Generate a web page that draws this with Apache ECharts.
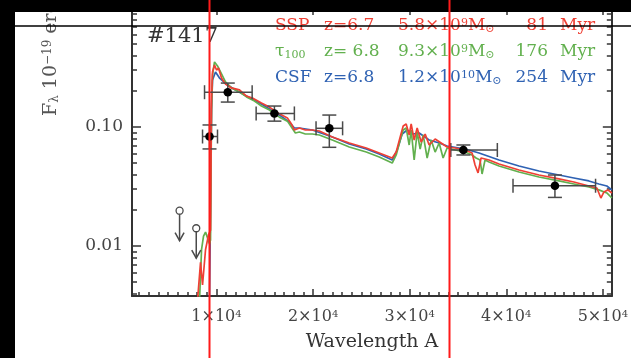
<!DOCTYPE html>
<html>
<head>
<meta charset="utf-8">
<script src="https://cdn.jsdelivr.net/npm/echarts@6/dist/echarts.min.js"></script>
<style>
html,body{margin:0;padding:0;background:#fff;}
#chart{width:631px;height:358px;}
</style>
</head>
<body>
<div id="chart"></div>
<script>
// Model spectra: [wavelength (A), F_lambda (1e-19 erg/s/cm2/A)]
const sspSpec = [[8036,0.0035],[8346,0.0073],[8553,0.0047],[8863,0.0093],[9173,0.0124],[9380,0.0136],[9483,0.169],[9587,0.290],[9793,0.332],[10000,0.301],[10207,0.313],[10517,0.258],[10930,0.230],[11550,0.213],[12377,0.205],[13101,0.182],[13721,0.175],[14651,0.159],[15478,0.147],[16512,0.129],[17339,0.119],[17752,0.106],[18062,0.0944],[18579,0.0981],[19199,0.0944],[19923,0.0944],[20646,0.0925],[21990,0.0824],[23747,0.0734],[25504,0.0666],[26848,0.0605],[28191,0.0549],[28605,0.0616],[29018,0.0824],[29328,0.102],[29638,0.106],[29948,0.0857],[30155,0.106],[30465,0.0778],[30775,0.0981],[31189,0.0748],[31602,0.0873],[32016,0.0706],[32636,0.0793],[33256,0.0734],[33876,0.0679],[34703,0.0666],[35737,0.0641],[36460,0.0605],[36770,0.0479],[37080,0.0411],[37390,0.0549],[38217,0.0528],[39251,0.0489],[41318,0.0435],[43385,0.0395],[45452,0.0366],[47003,0.0345],[48553,0.0319],[49380,0.0307],[49794,0.0253],[50104,0.0284],[50518,0.0296],[50931,0.0279]];
const tauSpec = [[8243,0.0035],[8450,0.0093],[8656,0.0121],[8863,0.0131],[9070,0.0117],[9276,0.0104],[9380,0.0112],[9483,0.139],[9587,0.274],[9793,0.352],[10103,0.326],[10413,0.290],[10930,0.239],[11550,0.213],[12377,0.197],[13101,0.179],[13928,0.165],[14651,0.150],[15478,0.139],[16512,0.121],[17339,0.112],[17752,0.100],[18165,0.089],[18579,0.0908],[19199,0.0873],[19923,0.0873],[20646,0.0857],[21990,0.0778],[23747,0.0679],[25504,0.0616],[26848,0.0560],[28191,0.0498],[28605,0.0582],[29018,0.0778],[29328,0.0944],[29638,0.0981],[29948,0.0706],[30155,0.0944],[30465,0.0528],[30775,0.0908],[31085,0.0653],[31396,0.0857],[31809,0.0549],[32223,0.0778],[32636,0.0616],[33049,0.0734],[33463,0.0549],[33876,0.0666],[34703,0.0641],[35737,0.0616],[36460,0.0582],[36874,0.0549],[37287,0.0528],[37494,0.0403],[37804,0.0528],[38217,0.0508],[39251,0.0470],[41318,0.0419],[43385,0.0380],[45452,0.0352],[47003,0.0332],[48553,0.0313],[49587,0.0296],[50414,0.0279],[50931,0.0253]];
const csfSpec = [[9276,0.0035],[9380,0.0243],[9483,0.139],[9587,0.248],[9897,0.290],[10310,0.258],[11137,0.225],[11964,0.205],[13101,0.182],[14651,0.156],[16512,0.126],[17545,0.110],[18062,0.0981],[18579,0.0981],[19923,0.0944],[21990,0.0824],[23747,0.0720],[25504,0.0653],[26848,0.0593],[28191,0.0528],[28708,0.0641],[29225,0.0873],[29741,0.0944],[30362,0.0873],[30982,0.0890],[32016,0.0778],[33049,0.0734],[33876,0.0692],[35737,0.0653],[37183,0.0605],[39251,0.0528],[41318,0.0470],[43385,0.0427],[45452,0.0395],[47003,0.0373],[48553,0.0352],[49587,0.0332],[50414,0.0319],[50931,0.0296]];

// Photometry with error bars
const photWave   = [9276, 11168, 15995, 21680, 35561, 45039];
const photWaveLo = [8553, 8760, 14103, 20305, 34258, 40698];
const photWaveHi = [10103, 13690, 18062, 23055, 39076, 49245];
const photFlux   = [0.0832, 0.196, 0.130, 0.0975, 0.0641, 0.0321];
const photFluxLo = [0.0654, 0.162, 0.112, 0.0675, 0.0582, 0.0256];
const photFluxHi = [0.104, 0.234, 0.150, 0.126, 0.0706, 0.0395];

// Upper limits
const limitWave = [6176, 7902];
const limitFlux = [0.0198, 0.0141];

// Axis ticks
const xMajorTicks = [10000, 20000, 30000, 40000, 50000];
const xMinorTicks = [2000,3000,4000,5000,6000,7000,8000,9000,11000,12000,13000,14000,15000,16000,17000,18000,19000,21000,22000,23000,24000,25000,26000,27000,28000,29000,31000,32000,33000,34000,35000,36000,37000,38000,39000,41000,42000,43000,44000,45000,46000,47000,48000,49000];
const yMajorTicks = [0.01, 0.1, 1];
const yLabelTicks = [0.01, 0.1];
const yMinorTicks = [0.004,0.005,0.006,0.007,0.008,0.009,0.02,0.03,0.04,0.05,0.06,0.07,0.08,0.09,0.2,0.3,0.4,0.5,0.6,0.7,0.8,0.9];

// Model annotation rows
const modelNames  = ['SSP', '{n|τ}{sub|100}', 'CSF'];
const modelZ      = ['z=6.7', 'z= 6.8', 'z=6.8'];
const modelMant   = ['5.8', '9.3', '1.2'];
const modelExp    = ['9', '9', '10'];
const modelAge    = ['81', '176', '254'];
const modelColors = ['#ef4034', '#62b04e', '#2f62b3'];

const X_MIN = 1250, X_MAX = 50930, Y_MIN = 0.0038, Y_MAX = 1;
const AXIS_COLOR = '#333';
const SERIF = 'DejaVu Serif';

const chart = echarts.init(document.getElementById('chart'), null, {renderer: 'canvas'});

function xAx(pos, ticks, len, withLine, withLabel) {
  return {
    type: 'value', position: pos, min: X_MIN, max: X_MAX,
    splitLine: {show: false},
    axisLine: {show: withLine, lineStyle: {color: AXIS_COLOR, width: 2}},
    axisTick: {show: true, inside: true, length: len, customValues: ticks, lineStyle: {color: AXIS_COLOR, width: 1.5}},
    axisLabel: withLabel ? {
      show: true, customValues: xMajorTicks, margin: 13,
      formatter: v => '{n|' + Math.round(v / 10000) + '×10}{s|4}',
      rich: {
        n: {fontFamily: SERIF, fontSize: 16, color: '#444'},
        s: {fontFamily: SERIF, fontSize: 10, color: '#444', verticalAlign: 'top', padding: [0, 0, 6, 0]}
      }
    } : {show: false}
  };
}
function yAx(pos, ticks, len, withLine, withLabel) {
  return {
    type: 'log', logBase: 10, position: pos, min: Y_MIN, max: Y_MAX,
    splitLine: {show: false},
    axisLine: {show: withLine, lineStyle: {color: AXIS_COLOR, width: 2}},
    axisTick: {show: true, inside: true, length: len, customValues: ticks, lineStyle: {color: AXIS_COLOR, width: 1.5}},
    axisLabel: withLabel ? {
      show: true, customValues: yLabelTicks, margin: 9,
      formatter: v => Number(v).toFixed(2),
      fontFamily: SERIF, fontSize: 17, color: '#444'
    } : {show: false}
  };
}

function renderPhot(params, api) {
  const c = api.coord([api.value(0), api.value(1)]);
  const l = api.coord([api.value(2), api.value(1)]);
  const h = api.coord([api.value(3), api.value(1)]);
  const b = api.coord([api.value(0), api.value(4)]);
  const t = api.coord([api.value(0), api.value(5)]);
  const cap = 7;
  const st = {stroke: '#4a4a4a', lineWidth: 1.5};
  const seg = (x1, y1, x2, y2) => ({type: 'line', shape: {x1, y1, x2, y2}, style: st});
  return {type: 'group', children: [
    seg(l[0], c[1], h[0], c[1]),
    seg(l[0], c[1] - cap, l[0], c[1] + cap),
    seg(h[0], c[1] - cap, h[0], c[1] + cap),
    seg(c[0], b[1], c[0], t[1]),
    seg(c[0] - cap, b[1], c[0] + cap, b[1]),
    seg(c[0] - cap, t[1], c[0] + cap, t[1]),
    {type: 'circle', shape: {cx: c[0], cy: c[1], r: 4.3}, style: {fill: '#000'}}
  ]};
}
function renderLimit(params, api) {
  const c = api.coord([api.value(0), api.value(1)]);
  const st = {stroke: '#4a4a4a', lineWidth: 1.5, fill: 'none'};
  const tip = c[1] + 30;
  return {type: 'group', children: [
    {type: 'circle', shape: {cx: c[0], cy: c[1], r: 3.5}, style: {stroke: '#4a4a4a', lineWidth: 1.3, fill: '#fff'}},
    {type: 'line', shape: {x1: c[0], y1: c[1] + 3.5, x2: c[0], y2: tip}, style: st},
    {type: 'polyline', shape: {points: [[c[0] - 4.5, tip - 8], [c[0], tip], [c[0] + 4.5, tip - 8]]}, style: st}
  ]};
}

// Annotation texts
const graphics = [];
const rowY = [26, 52, 78];
const richBase = {
  n: {fontFamily: SERIF, fontSize: 17},
  sup: {fontFamily: SERIF, fontSize: 11, verticalAlign: 'top', padding: [0, 0, 5, 0]},
  sub: {fontFamily: SERIF, fontSize: 11, verticalAlign: 'bottom', padding: [5, 0, 0, 0]}
};
function txt(text, x, y, color, align) {
  const rich = {};
  Object.keys(richBase).forEach(k => { rich[k] = Object.assign({fill: color}, richBase[k]); });
  return {
    type: 'text', x: x, y: y, z: 50,
    style: {text: text, fill: color, font: '17px "' + SERIF + '"', textAlign: align || 'left', textVerticalAlign: 'middle', rich: rich}
  };
}
modelNames.forEach((nm, i) => {
  const col = modelColors[i], y = rowY[i];
  graphics.push(txt(nm.indexOf('{') >= 0 ? nm : '{n|' + nm + '}', 275, y, col));
  graphics.push(txt('{n|' + modelZ[i] + '}', 324, y, col));
  graphics.push(txt('{n|' + modelMant[i] + '×10}{sup|' + modelExp[i] + '}{n|M}{sub|⊙}', 398, y, col));
  graphics.push(txt('{n|' + modelAge[i] + '}', 548, y, col, 'right'));
  graphics.push(txt('{n|Myr}', 560, y, col));
});
graphics.push({
  type: 'text', x: 147, y: 37, z: 50,
  style: {text: '#1417', fill: '#333', font: '21px "' + SERIF + '"', textVerticalAlign: 'middle'}
});
graphics.push({
  type: 'text', x: 372, y: 342, z: 50,
  style: {text: 'Wavelength A', fill: '#333', font: '19px "' + SERIF + '"', textAlign: 'center', textVerticalAlign: 'middle'}
});
graphics.push({
  type: 'text', x: 51, y: 116, rotation: Math.PI / 2, z: 50,
  style: {
    text: '{n|F}{sub|λ}{n| 10}{sup|−19}{n| erg s}{sup|−1}{n| cm}{sup|−2}{n| Å}{sup|−1}',
    fill: '#555', font: '19px "' + SERIF + '"', textAlign: 'left', textVerticalAlign: 'middle',
    rich: {
      n: {fontFamily: SERIF, fontSize: 19, fill: '#555'},
      sup: {fontFamily: SERIF, fontSize: 12, fill: '#555', verticalAlign: 'top', padding: [0, 0, 6, 0]},
      sub: {fontFamily: SERIF, fontSize: 12, fill: '#555', verticalAlign: 'bottom', padding: [6, 0, 0, 0]}
    }
  }
});
// Frame overlays
graphics.push({type: 'rect', shape: {x: 0, y: 0, width: 15, height: 358}, style: {fill: '#000'}, z: 90});
graphics.push({type: 'rect', shape: {x: 0, y: 0, width: 631, height: 12}, style: {fill: '#000'}, z: 90});
graphics.push({type: 'line', shape: {x1: 15, y1: 26, x2: 631, y2: 26}, style: {stroke: '#000', lineWidth: 1.5}, z: 91});
graphics.push({type: 'line', shape: {x1: 209.5, y1: 0, x2: 209.5, y2: 358}, style: {stroke: '#ff1a1a', lineWidth: 2}, z: 92});
graphics.push({type: 'line', shape: {x1: 449.5, y1: 0, x2: 449.5, y2: 358}, style: {stroke: '#ff1a1a', lineWidth: 2}, z: 92});

const lineSeries = (name, data, color) => ({
  name: name, type: 'line', data: data, xAxisIndex: 0, yAxisIndex: 0,
  showSymbol: false, clip: true, z: 2,
  lineStyle: {color: color, width: 1.7}, itemStyle: {color: color}
});

chart.setOption({
  animation: false,
  backgroundColor: '#fff',
  grid: {left: 132, right: 18, top: 8, bottom: 62, containLabel: false},
  xAxis: [
    xAx('bottom', xMajorTicks, 7, true, true),
    xAx('bottom', xMinorTicks, 4, false, false),
    xAx('top', xMajorTicks, 7, true, false),
    xAx('top', xMinorTicks, 4, false, false)
  ],
  yAxis: [
    yAx('left', yMajorTicks, 9, true, true),
    yAx('left', yMinorTicks, 5, false, false),
    yAx('right', yMajorTicks, 9, true, false),
    yAx('right', yMinorTicks, 5, false, false)
  ],
  series: [
    lineSeries('CSF', csfSpec, modelColors[2]),
    lineSeries('tau100', tauSpec, modelColors[1]),
    lineSeries('SSP', sspSpec, modelColors[0]),
    {
      type: 'custom', name: 'photometry', z: 5, xAxisIndex: 0, yAxisIndex: 0,
      data: photWave.map((w, i) => [w, photFlux[i], photWaveLo[i], photWaveHi[i], photFluxLo[i], photFluxHi[i]]),
      encode: {x: 0, y: 1},
      renderItem: renderPhot
    },
    {
      type: 'custom', name: 'limits', z: 5, xAxisIndex: 0, yAxisIndex: 0,
      data: limitWave.map((w, i) => [w, limitFlux[i]]),
      encode: {x: 0, y: 1},
      renderItem: renderLimit
    }
  ],
  graphic: graphics
});
</script>
</body>
</html>
